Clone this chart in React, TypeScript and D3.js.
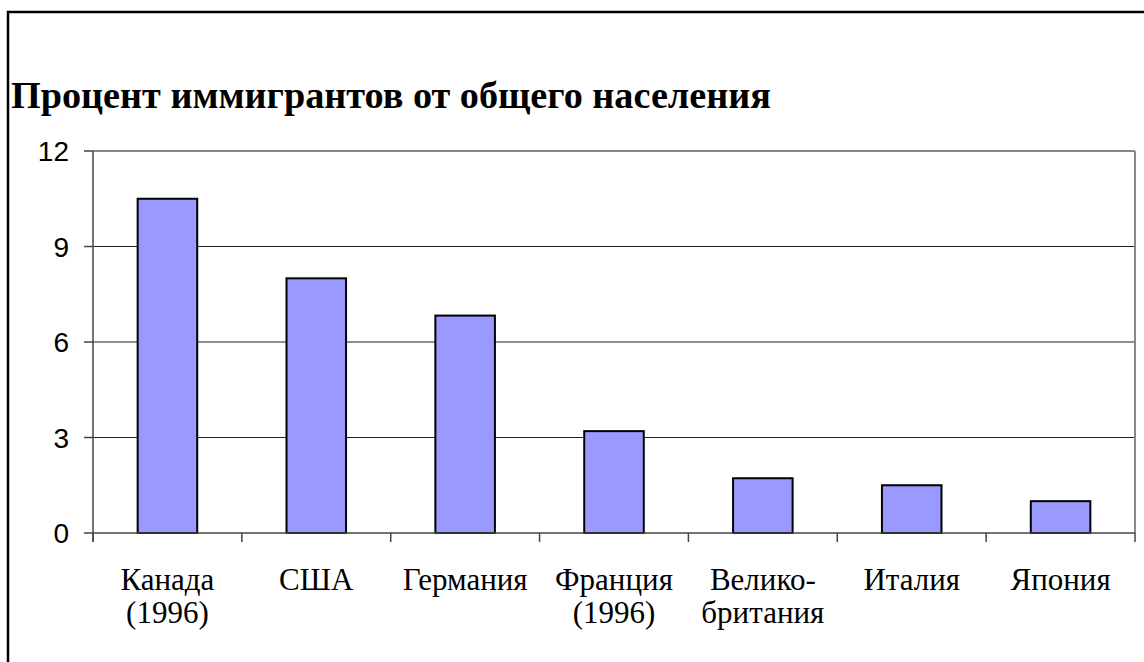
import React from "react";
import * as d3 from "d3";

const title = "Процент иммигрантов от общего населения";
const categories = ["Канада (1996)", "США", "Германия", "Франция (1996)", "Великобритания", "Италия", "Япония"];
const categoryLines = [["Канада", "(1996)"], ["США"], ["Германия"], ["Франция", "(1996)"], ["Велико-", "британия"], ["Италия"], ["Япония"]];
const values = [10.5, 8.0, 6.83, 3.2, 1.72, 1.5, 1.0];
const yTicks = [0, 3, 6, 9, 12];

export default function App() {
  const W = 1144, H = 662;
  const left = 93, right = 1135, top = 151, bottom = 533;
  const x = d3.scaleBand<string>().domain(categories).range([left, right]).paddingInner(0.6).paddingOuter(0.3);
  const y = d3.scaleLinear().domain([0, 12]).range([bottom, top]);
  const boundaries = d3.range(categories.length + 1).map(i => left + i * (right - left) / categories.length);

  return (
    <svg width={W} height={H} style={{ position: "absolute", left: 0, top: 0, background: "#fff" }}>
      <rect x={0} y={0} width={W} height={H} fill="#fff" />
      <rect x={8} y={12} width={W + 10} height={H + 10} fill="none" stroke="#000" strokeWidth={2.5} />
      <text x={11} y={108} fontFamily="'Liberation Serif', 'Times New Roman', serif" fontWeight="bold" fontSize={38}
        textLength={760} lengthAdjust="spacingAndGlyphs" fill="#000">{title}</text>

      {yTicks.filter(t => t > 0 && t < 12).map(t => (
        <line key={"g" + t} x1={left} x2={right} y1={y(t)} y2={y(t)} stroke="#222" strokeWidth={1} />
      ))}
      <line x1={left} x2={right} y1={y(12)} y2={y(12)} stroke="#888" strokeWidth={2} />
      <line x1={right} x2={right} y1={y(12)} y2={bottom} stroke="#888" strokeWidth={2} />

      {categories.map((c, i) => (
        <rect key={c} x={x(c)} y={y(values[i])} width={x.bandwidth()} height={bottom - y(values[i])}
          fill="#9999FF" stroke="#000" strokeWidth={2} />
      ))}

      <line x1={left} x2={left} y1={y(12)} y2={bottom + 9} stroke="#444" strokeWidth={1.5} />
      {yTicks.map(t => (
        <g key={"y" + t}>
          <line x1={left - 9} x2={left} y1={y(t)} y2={y(t)} stroke="#444" strokeWidth={1.5} />
          <text x={69} y={y(t)} dy="0.36em" textAnchor="end" fontFamily="'Liberation Sans', Arial, sans-serif" fontSize={28} fill="#000">{t}</text>
        </g>
      ))}

      <line x1={left} x2={right} y1={bottom} y2={bottom} stroke="#444" strokeWidth={1.5} />
      {boundaries.map((b, i) => (
        <line key={"xt" + i} x1={b} x2={b} y1={bottom} y2={bottom + 9} stroke="#444" strokeWidth={1.5} />
      ))}
      {categories.map((c, i) => {
        const cx = (x(c) as number) + x.bandwidth() / 2;
        return (
          <text key={"xl" + c} x={cx} y={590} textAnchor="middle"
            fontFamily="'Liberation Serif', 'Times New Roman', serif" fontSize={31} fill="#000">
            {categoryLines[i].map((ln, j) => (
              <tspan key={j} x={cx} dy={j === 0 ? 0 : 33}>{ln}</tspan>
            ))}
          </text>
        );
      })}
    </svg>
  );
}
